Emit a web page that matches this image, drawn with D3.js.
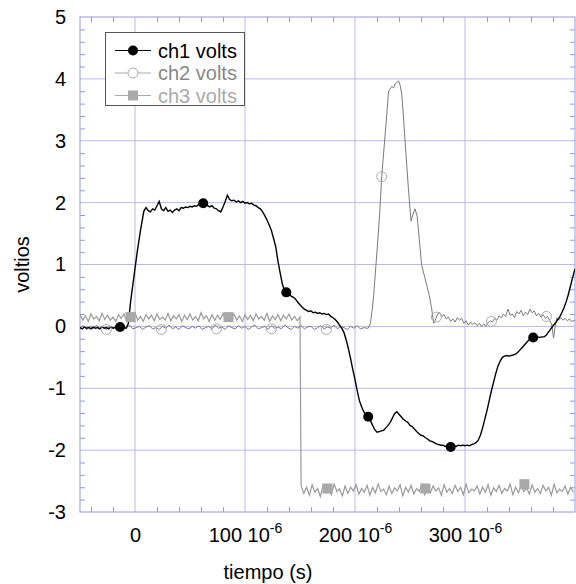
<!DOCTYPE html>
<html>
<head>
<meta charset="utf-8">
<script src="https://cdn.jsdelivr.net/npm/d3@7"></script>
<style>
  body { margin: 0; background: #fff; }
  text { font-family: Arial, "Liberation Sans", sans-serif; }
</style>
</head>
<body>
<svg id="chart"></svg>
<script>
// ---- data (time in microseconds, values in volts) ----
const seriesNames = ['ch1 volts', 'ch2 volts', 'ch3 volts'];
const xMajor = [0, 100, 200, 300];
const xTickLabels = ['0', '100', '200', '300'];
const yMajor = [-3, -2, -1, 0, 1, 2, 3, 4, 5];
const yTickLabels = ['-3', '-2', '-1', '0', '1', '2', '3', '4', '5'];

// ch1: black trace
const ch1 = [
  [-50,-0.02],[-48,-0.04],[-46,-0.01],[-44,-0.03],[-42,-0.02],[-40,-0.04],[-38,-0.01],[-36,-0.03],[-34,-0.02],[-32,-0.04],
  [-30,-0.01],[-28,-0.03],[-26,-0.02],[-24,-0.04],[-22,-0.01],[-20,-0.03],[-18,-0.02],[-16,-0.04],[-14,-0.01],[-12,-0.03],
  [-10,-0.02],[-8,-0.03],[-6,0.05],[-4,0.4],[-1,0.8],[2,1.2],[5,1.55],[8,1.86],[10,1.92],
  [12,1.87],[14,1.85],[16,1.9],[18,1.88],[20,1.95],[22,2.02],[24,1.9],[26,1.87],[28,1.92],[30,1.86],[32,1.88],[34,1.84],
  [36,1.88],[38,1.9],[40,1.87],[42,1.92],[44,1.91],[46,1.93],[48,1.92],[50,1.94],[52,1.93],[54,1.95],[56,1.94],[58,1.97],
  [60,1.98],[62,1.99],[64,1.98],[66,1.95],[68,1.93],[70,1.95],[72,1.91],[74,1.9],[76,1.87],[78,1.85],[80,1.93],[82,2.02],
  [84,2.12],[86,2.05],[88,2.03],[90,2.04],[92,2.01],[94,2.03],[96,2.0],[98,2.02],[100,1.99],[102,2.0],[104,1.98],[106,1.99],
  [108,1.96],[110,1.95],[112,1.92],[114,1.9],[116,1.85],[118,1.79],[120,1.72],[122,1.64],[124,1.55],[126,1.42],[128,1.28],
  [130,1.05],[132,0.86],[134,0.68],[136,0.58],[138,0.54],[140,0.52],[142,0.49],[144,0.47],[146,0.44],[148,0.39],[150,0.35],
  [152,0.31],[154,0.28],[156,0.26],[158,0.24],[160,0.25],[162,0.22],[164,0.23],[166,0.21],[168,0.22],[170,0.2],[172,0.21],
  [174,0.19],[176,0.2],[178,0.16],[180,0.14],[182,0.11],[184,0.07],[186,0.02],[188,-0.03],[190,-0.1],[192,-0.22],[194,-0.36],
  [196,-0.52],[198,-0.7],[200,-0.86],[202,-1.04],[204,-1.2],[206,-1.3],[208,-1.38],[210,-1.43],[212,-1.46],[214,-1.52],
  [216,-1.6],[218,-1.67],[220,-1.71],[222,-1.7],[224,-1.69],[226,-1.68],[228,-1.64],[230,-1.6],[232,-1.55],[234,-1.48],
  [236,-1.41],[238,-1.38],[240,-1.42],[242,-1.46],[244,-1.5],[246,-1.53],[248,-1.55],[250,-1.6],[252,-1.62],[254,-1.66],
  [256,-1.7],[258,-1.73],[260,-1.76],[262,-1.77],[264,-1.8],[266,-1.82],[268,-1.85],[270,-1.86],[272,-1.88],[274,-1.9],
  [276,-1.91],[278,-1.92],[280,-1.92],[282,-1.94],[284,-1.93],[286,-1.95],[288,-1.94],[290,-1.93],[292,-1.94],[294,-1.92],
  [296,-1.93],[298,-1.92],[300,-1.93],[302,-1.92],[304,-1.93],[306,-1.91],[308,-1.9],[310,-1.88],[312,-1.84],[314,-1.76],
  [316,-1.64],[318,-1.5],[320,-1.36],[322,-1.2],[324,-1.04],[326,-0.9],[328,-0.76],[330,-0.64],[332,-0.56],[334,-0.5],
  [336,-0.48],[338,-0.47],[340,-0.48],[342,-0.47],[344,-0.46],[346,-0.45],[348,-0.42],[350,-0.38],[352,-0.34],[354,-0.3],
  [356,-0.26],[358,-0.22],[360,-0.2],[362,-0.18],[364,-0.18],[366,-0.17],[368,-0.18],[370,-0.17],[372,-0.17],[374,-0.14],
  [376,-0.09],[378,-0.04],[380,0.01],[382,0.05],[384,0.1],[386,0.15],[388,0.22],[390,0.3],[392,0.4],[394,0.52],[396,0.66],
  [398,0.8],[400,0.93]
];
const ch1Markers = [[-13.6,-0.01],[62,1.99],[137.5,0.55],[212,-1.46],[287,-1.95],[362,-0.18]];

// ch2: grey trace, noisy baseline sampled every 3 us from -50 us, then the pulse
const ch2BaseStart = -50, ch2BaseStep = 3;
const ch2Base = [
  -0.02,0.01,-0.05,0.0,-0.04,0.02,-0.03,-0.01,-0.05,0.01,-0.03,0.0,-0.06,-0.01,-0.03,0.02,-0.04,-0.02,0.0,-0.05,
  -0.01,0.01,-0.04,-0.02,-0.05,0.0,-0.03,0.02,-0.04,-0.01,-0.05,0.01,-0.02,-0.04,0.0,-0.03,0.01,-0.05,-0.02,0.0,
  -0.04,0.02,-0.03,-0.01,-0.05,0.01,-0.02,-0.04,0.01,-0.03,0.0,-0.05,-0.01,0.02,-0.04,-0.02,0.0,-0.05,0.01,-0.03,
  -0.01,-0.04,0.02,-0.02,-0.05,0.0,-0.03,0.01,-0.04,-0.01,0.0,-0.05,-0.02,0.01,-0.04,-0.01,-0.03,0.02,-0.04,0.0,
  -0.02,-0.05,0.0,-0.03,0.01,-0.04,-0.02,-0.03
];
const ch2Pulse = [
  [212,-0.03],[214,0.05],[215.5,0.25],[217,0.5],[219,0.98],[221,1.46],[222.5,1.85],[224.3,2.42],[226,2.8],[227.5,3.12],
  [229,3.45],[230.5,3.8],[232,3.84],[233.5,3.88],[235,3.85],[236.5,3.92],[238,3.94],[239.5,3.97],[241,3.9],[242.5,3.75],
  [244,3.4],[245.5,3.0],[247,2.62],[248.5,2.24],[250,1.9],[251,1.7],[252.5,1.8],[254.5,1.9],[256.5,1.78],[258.5,1.4],
  [260.5,1.0],[263,0.82],[265,0.68],[267.5,0.5],[269.5,0.31],[271.5,0.05],[273,0.1],[275,0.2],[277,0.22],[279,0.16],
  [281,0.19],[283,0.12],[285,0.15],[287,0.08],[289,0.12],[291,0.07],[293,0.14],[295,0.1],[297,0.13],[299,0.05],
  [301,0.09],[303,0.02],[305,0.07],[307,0.03],[309,0.06],[311,0.01],[313,0.05],[315,0.0],[317,0.04],[319,0.0],
  [321,0.06],[323,0.09],[325,0.07],[327,0.13],[329,0.1],[331,0.17],[333,0.14],[335,0.2],[337,0.16],[339,0.28],
  [341,0.18],[343,0.2],[345,0.14],[347,0.24],[349,0.2],[351,0.26],[353,0.17],[355,0.23],[357,0.19],[359,0.28],
  [361,0.22],[363,0.25],[365,0.17],[367,0.21],[369,0.15],[371,0.19],[373,0.13],[375,0.16],[377,0.1],[379,0.02],
  [380.5,-0.19],[382,0.0],[383.5,0.14],[385,0.1],[387,0.14],[389,0.1],[391,0.13],[393,0.09],[395,0.12],[397,0.08],
  [400,0.1]
];
const ch2Markers = [[-26,-0.05],[24,-0.05],[74,-0.04],[124,-0.04],[174,-0.05],[224.3,2.42],[274,0.15],[324,0.08],[374,0.16]];

// ch3: grey square trace, sampled every 2.5 us; high level then low level
const ch3HiStart = -50, ch3LoStart = 151, ch3Step = 2.5;
const ch3Hi = [
  0.19,0.1,0.17,0.08,0.2,0.12,0.16,0.09,0.21,0.11,0.18,0.1,0.15,0.08,0.19,0.13,0.2,0.09,0.17,0.11,
  0.22,0.1,0.16,0.08,0.19,0.12,0.18,0.09,0.2,0.11,0.15,0.1,0.21,0.09,0.17,0.12,0.19,0.08,0.18,0.11,
  0.2,0.1,0.16,0.09,0.22,0.12,0.17,0.08,0.19,0.1,0.18,0.11,0.21,0.09,0.15,0.12,0.2,0.1,0.17,0.08,
  0.19,0.11,0.18,0.09,0.2,0.12,0.16,0.1,0.21,0.08,0.17,0.11,0.19,0.09,0.18,0.12,0.2,0.1,0.16,0.09,0.15
];
const ch3Lo = [
  -2.58,-2.7,-2.6,-2.73,-2.56,-2.68,-2.62,-2.75,-2.57,-2.69,-2.61,-2.72,-2.55,-2.67,-2.63,-2.74,-2.58,-2.7,-2.6,-2.66,
  -2.56,-2.71,-2.62,-2.68,-2.57,-2.73,-2.6,-2.69,-2.55,-2.67,-2.63,-2.72,-2.58,-2.7,-2.61,-2.66,-2.56,-2.74,-2.6,-2.68,
  -2.57,-2.71,-2.62,-2.67,-2.55,-2.72,-2.6,-2.69,-2.58,-2.66,-2.61,-2.73,-2.56,-2.68,-2.62,-2.7,-2.57,-2.67,-2.6,-2.72,
  -2.55,-2.69,-2.63,-2.66,-2.58,-2.71,-2.6,-2.68,-2.56,-2.73,-2.61,-2.67,-2.57,-2.7,-2.62,-2.66,-2.55,-2.72,-2.6,-2.69,
  -2.58,-2.67,-2.61,-2.71,-2.56,-2.68,-2.62,-2.7,-2.57,-2.66,-2.6,-2.73,-2.55,-2.69,-2.63,-2.67,-2.58,-2.71,-2.6,-2.68
];
const ch3Markers = [[-4,0.15],[85,0.15],[175,-2.62],[264,-2.62],[354,-2.55]];

// ---- layout ----
const W = 576, H = 584;
const plot = {left: 80, right: 575, top: 17, bottom: 512};
const gridColor = '#b8b8ee';
const frameColor = '#9898d8';

const x = d3.scaleLinear().domain([-50, 400]).range([plot.left, plot.right]);
const y = d3.scaleLinear().domain([-3, 5]).range([plot.bottom, plot.top]);

const svg = d3.select('#chart').attr('width', W).attr('height', H);

svg.append('defs').append('clipPath').attr('id', 'clip')
  .append('rect')
  .attr('x', plot.left).attr('y', plot.top)
  .attr('width', plot.right - plot.left).attr('height', plot.bottom - plot.top);

// gridlines
svg.append('g').selectAll('line').data(xMajor).join('line')
  .attr('x1', d => x(d)).attr('x2', d => x(d))
  .attr('y1', plot.top).attr('y2', plot.bottom)
  .attr('stroke', gridColor);
svg.append('g').selectAll('line').data(yMajor.slice(1, -1)).join('line')
  .attr('x1', plot.left).attr('x2', plot.right)
  .attr('y1', d => y(d)).attr('y2', d => y(d))
  .attr('stroke', gridColor);

// minor ticks on all four sides, pointing inwards
const xMinor = d3.range(-40, 400, 20).filter(d => d % 100 !== 0);
const yMinor = d3.range(-28, 50, 2).filter(d => d % 10 !== 0).map(d => d / 10);
const tickStyle = g => {
  g.select('.domain').remove();
  g.selectAll('line').attr('stroke', frameColor);
};
svg.append('g').attr('transform', `translate(0,${plot.bottom})`)
  .call(d3.axisBottom(x).tickValues(xMinor).tickSize(-5).tickFormat('')).call(tickStyle);
svg.append('g').attr('transform', `translate(0,${plot.top})`)
  .call(d3.axisTop(x).tickValues(xMinor).tickSize(-5).tickFormat('')).call(tickStyle);
svg.append('g').attr('transform', `translate(${plot.left},0)`)
  .call(d3.axisLeft(y).tickValues(yMinor).tickSize(-5).tickFormat('')).call(tickStyle);
svg.append('g').attr('transform', `translate(${plot.right},0)`)
  .call(d3.axisRight(y).tickValues(yMinor).tickSize(-5).tickFormat('')).call(tickStyle);

// frame
svg.append('rect')
  .attr('x', plot.left).attr('y', plot.top)
  .attr('width', plot.right - plot.left).attr('height', plot.bottom - plot.top)
  .attr('fill', 'none').attr('stroke', frameColor);

// y labels (plain hyphen minus, as in the original)
const yAxisG = svg.append('g').attr('transform', `translate(${plot.left},0)`)
  .call(d3.axisLeft(y).tickValues(yMajor).tickSize(0).tickPadding(14)
    .tickFormat((d, i) => yTickLabels[i]));
yAxisG.select('.domain').remove();
yAxisG.selectAll('text').attr('font-size', 20).attr('fill', '#000')
  .style('font-family', 'Arial, "Liberation Sans", sans-serif');

// x labels, "100 10^-6" style
const xAxisG = svg.append('g').attr('transform', `translate(0,${plot.bottom})`)
  .call(d3.axisBottom(x).tickValues(xMajor).tickSize(0).tickFormat(''));
xAxisG.select('.domain').remove();
xAxisG.selectAll('.tick').each(function(d, i) {
  const t = d3.select(this).append('text')
    .attr('y', 30).attr('text-anchor', 'middle')
    .attr('font-size', 20).attr('fill', '#000');
  t.append('tspan').text(xTickLabels[i]);
  if (d !== 0) {
    t.append('tspan').text(' 10');
    t.append('tspan').attr('dy', -9).attr('font-size', 14).text('-6');
  }
});

// axis titles
svg.append('text')
  .attr('transform', `translate(29,${(plot.top + plot.bottom) / 2}) rotate(-90)`)
  .attr('text-anchor', 'middle').attr('font-size', 20).text('voltios');
svg.append('text')
  .attr('x', 268).attr('y', 579)
  .attr('text-anchor', 'middle').attr('font-size', 20).text('tiempo (s)');

// ---- traces ----
const line = d3.line().x(d => x(d[0])).y(d => y(d[1]));
const traces = svg.append('g').attr('clip-path', 'url(#clip)');

const ch2Data = ch2Base.map((v, i) => [ch2BaseStart + i * ch2BaseStep, v]).concat(ch2Pulse);
const ch3Data = ch3Hi.map((v, i) => [ch3HiStart + i * ch3Step, v])
  .concat(ch3Lo.map((v, i) => [ch3LoStart + i * ch3Step, v]));

traces.append('path').datum(ch3Data).attr('d', line)
  .attr('fill', 'none').attr('stroke', '#9a9a9a').attr('stroke-width', 1.2);
traces.append('path').datum(ch2Data).attr('d', line)
  .attr('fill', 'none').attr('stroke', '#7a7a7a').attr('stroke-width', 1);
traces.append('path').datum(ch1).attr('d', line)
  .attr('fill', 'none').attr('stroke', '#000').attr('stroke-width', 1.4);

// markers
traces.selectAll('.m3').data(ch3Markers).join('rect')
  .attr('class', 'm3')
  .attr('x', d => x(d[0]) - 5).attr('y', d => y(d[1]) - 5)
  .attr('width', 10).attr('height', 10).attr('fill', '#a8a8a8');
traces.selectAll('.m2').data(ch2Markers).join('circle')
  .attr('class', 'm2')
  .attr('cx', d => x(d[0])).attr('cy', d => y(d[1])).attr('r', 5)
  .attr('fill', 'none').attr('stroke', '#aaa').attr('stroke-width', 1);
traces.selectAll('.m1').data(ch1Markers).join('circle')
  .attr('class', 'm1')
  .attr('cx', d => x(d[0])).attr('cy', d => y(d[1])).attr('r', 5)
  .attr('fill', '#000');

// ---- legend ----
const legend = svg.append('g');
legend.append('rect')
  .attr('x', 105.5).attr('y', 32.5).attr('width', 139).attr('height', 73)
  .attr('fill', '#fff').attr('stroke', '#555');
const legendColors = ['#000', '#888', '#aaa'];
const legendLine = ['#000', '#aaa', '#aaa'];
const rows = legend.selectAll('.row').data(seriesNames).join('g')
  .attr('class', 'row')
  .attr('transform', (d, i) => `translate(0,${50.5 + i * 22.5})`);
rows.append('line')
  .attr('x1', 115).attr('x2', 151).attr('y1', 0).attr('y2', 0)
  .attr('stroke', (d, i) => legendLine[i]).attr('stroke-width', 1);
rows.each(function(d, i) {
  const g = d3.select(this);
  if (i === 0) g.append('circle').attr('cx', 133).attr('r', 5).attr('fill', '#000');
  if (i === 1) g.append('circle').attr('cx', 133).attr('r', 5).attr('fill', '#fff').attr('stroke', '#aaa');
  if (i === 2) g.append('rect').attr('x', 128).attr('y', -5).attr('width', 10).attr('height', 10).attr('fill', '#aaa');
});
rows.append('text')
  .attr('x', 158).attr('y', 7).attr('font-size', 20)
  .attr('fill', (d, i) => legendColors[i])
  .text(d => d);
</script>
</body>
</html>
